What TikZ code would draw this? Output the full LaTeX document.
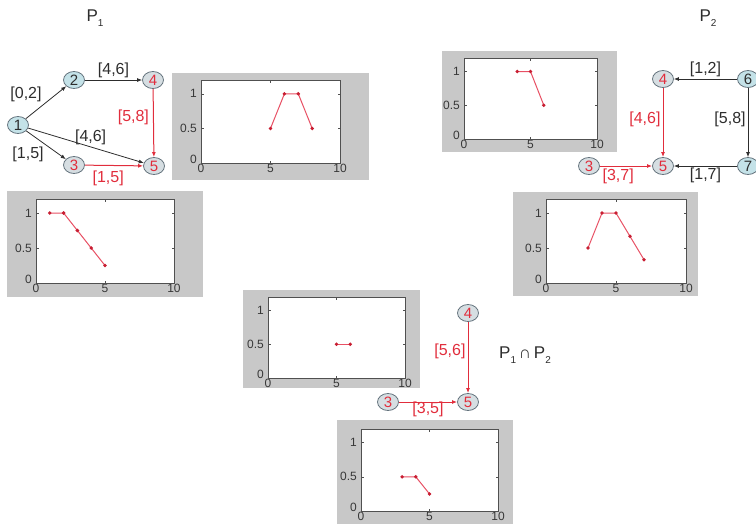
\documentclass[tikz,border=0pt]{standalone}
\usepackage{fontspec}
\setmainfont{Liberation Sans}
\usetikzlibrary{shapes.geometric,arrows.meta}

\definecolor{gbg}{RGB}{200,200,200}
\definecolor{axc}{RGB}{80,80,80}
\definecolor{plc}{RGB}{232,80,100}
\definecolor{mkc}{RGB}{200,30,50}
\definecolor{nfill}{RGB}{196,226,232}
\definecolor{rfill}{RGB}{214,222,226}
\definecolor{ndraw}{RGB}{100,115,125}
\definecolor{redc}{RGB}{225,45,60}
\definecolor{edk}{RGB}{45,45,45}

\tikzset{
  gn/.style={ellipse, draw=ndraw, fill=nfill, minimum width=21pt, minimum height=17pt,
    inner sep=0pt, font=\fontsize{15}{15}\selectfont, text=edk, line width=0.8pt},
  rn/.style={gn, fill=rfill, text=redc},
  lab/.style={font=\fontsize{16}{16}\selectfont, text=edk, inner sep=2pt},
  rlab/.style={lab, text=redc},
  be/.style={draw=edk, line width=0.8pt, -{Latex[length=5pt,width=4pt]}},
  re/.style={draw=redc, line width=1pt, -{Latex[length=5pt,width=4pt]}},
  ticklab/.style={font=\fontsize{12}{12}\selectfont, text=axc!70!black, inner sep=1pt},
  axline/.style={draw=axc, line width=0.5pt},
  gbox/.style={fill=gbg},
  title/.style={font=\fontsize{17}{17}\selectfont, text=edk, inner sep=0pt},
}

% #1 name, #2 ax1, #3 ay1 (top), #4 ax2, #5 ay2 (bottom), #6 points
\newcommand\mplot[6]{%
  \pgfmathsetmacro\mpx{(#4-#2)/10}%
  \pgfmathsetmacro\mpy{(#5-#3)/1.2}%
  \begin{scope}[shift={(#2,#5)},x=\mpx pt,y=\mpy pt]
    \fill[white] (0,0) rectangle (10,1.2);
    \foreach \t in {0,5,10}{%
      \draw[axline] (\t,0) -- +(0pt,2.5pt);
      \draw[axline] (\t,1.2) -- +(0pt,-2.5pt);
      \node[ticklab,anchor=north] (#1-x\t) at (\t,0) {\t};}
    \foreach \t in {0,0.5,1}{%
      \draw[axline] (0,\t) -- +(2.5pt,0pt);
      \draw[axline] (10,\t) -- +(-2.5pt,0pt);}
    \node[ticklab,anchor=east] (#1-y1) at ([xshift=-3pt]0,1) {1};
    \node[ticklab,anchor=east] (#1-y05) at ([xshift=-3pt]0,0.5) {0.5};
    \node[ticklab,anchor=east] (#1-y0) at ([xshift=-3pt,yshift=4pt]0,0) {0};
    \draw[draw=axc, line width=1pt] (0,0) rectangle (10,1.2);
    \draw[plc, line width=1pt] plot[mark=*, mark size=1.2pt,
      mark options={draw=mkc, fill=mkc}] coordinates {#6};
  \end{scope}}

\begin{document}
\begin{tikzpicture}[x=1pt,y=-1pt]
\useasboundingbox (0,0) rectangle (756,523);

% ---------- gray plot backgrounds ----------
\fill[gbox] (172,73) rectangle (369,180);
\fill[gbox] (7,191) rectangle (203,297);
\fill[gbox] (442,51) rectangle (617,152);
\fill[gbox] (513,192) rectangle (698,296);
\fill[gbox] (243,290) rectangle (420,388);
\fill[gbox] (337,420) rectangle (513,530);

% ---------- plots ----------
\mplot{pa}{201}{80}{340}{163}{(5,0.5) (6,1) (7,1) (8,0.5)}
\mplot{pb}{36}{199}{174}{283}{(1,1) (2,1) (3,0.75) (4,0.5) (5,0.25)}
\mplot{pc}{464}{58}{597}{139}{(4,1) (5,1) (6,0.5)}
\mplot{pd}{546}{199}{686}{283}{(3,0.5) (4,1) (5,1) (6,0.667) (7,0.333)}
\mplot{pe}{268}{297}{405}{378}{(5,0.5) (6,0.5)}
\mplot{pf}{361}{429}{498}{511}{(3,0.5) (4,0.5) (5,0.25)}

% ---------- titles ----------
\node[title] (t1) at (95,18) {P\raisebox{-0.5ex}{\fontsize{10}{10}\selectfont 1}};
\node[title] (t2) at (708,18) {P\raisebox{-0.5ex}{\fontsize{10}{10}\selectfont 2}};
\node[title, anchor=west] (t3) at (499,355) {P\raisebox{-0.5ex}{\fontsize{10}{10}\selectfont 1}\,∩\,P\raisebox{-0.5ex}{\fontsize{10}{10}\selectfont 2}};

% ---------- P1 graph ----------
\node[gn] (a1) at (18,125) {1};
\node[gn] (a2) at (74,80) {2};
\node[rn] (a4) at (153,80) {4};
\node[rn] (a3) at (74,165) {3};
\node[rn] (a5) at (154,166) {5};
\draw[be] (a1) -- node[lab, above left, pos=0.45] {[0,2]} (a2);
\draw[be] (a2) -- node[lab, above] {[4,6]} (a4);
\draw[be] (a1) -- node[lab, below left, pos=0.5] {[1,5]} (a3);
\draw[be] (a1) -- node[lab, above, pos=0.54] {[4,6]} (a5);
\draw[re] (a4) -- node[rlab, left, pos=0.42, xshift=-2pt] {[5,8]} (a5);
\draw[re] (a3) -- node[rlab, below, pos=0.4, yshift=-3pt] {[1,5]} (a5);

% ---------- P2 graph ----------
\node[gn] (b6) at (748,79) {6};
\node[rn] (b4) at (663,79) {4};
\node[rn] (b5) at (663,166) {5};
\node[gn] (b7) at (748,166) {7};
\node[rn] (b3) at (589,166) {3};
\draw[be] (b6) -- node[lab, above] {[1,2]} (b4);
\draw[be] (b6) -- node[lab, left, pos=0.45] {[5,8]} (b7);
\draw[be] (b7) -- node[lab, below] {[1,7]} (b5);
\draw[re] (b4) -- node[rlab, left, pos=0.45] {[4,6]} (b5);
\draw[re] (b3) -- node[rlab, below, pos=0.35] {[3,7]} (b5);

% ---------- intersection graph ----------
\node[rn] (c4) at (468,313) {4};
\node[rn] (c5) at (468,402) {5};
\node[rn] (c3) at (388,402) {3};
\draw[re] (c4) -- node[rlab, left, pos=0.42] {[5,6]} (c5);
\draw[re] (c3) -- node[rlab, below, pos=0.5, yshift=3pt] {[3,5]} (c5);

\end{tikzpicture}
\end{document}
